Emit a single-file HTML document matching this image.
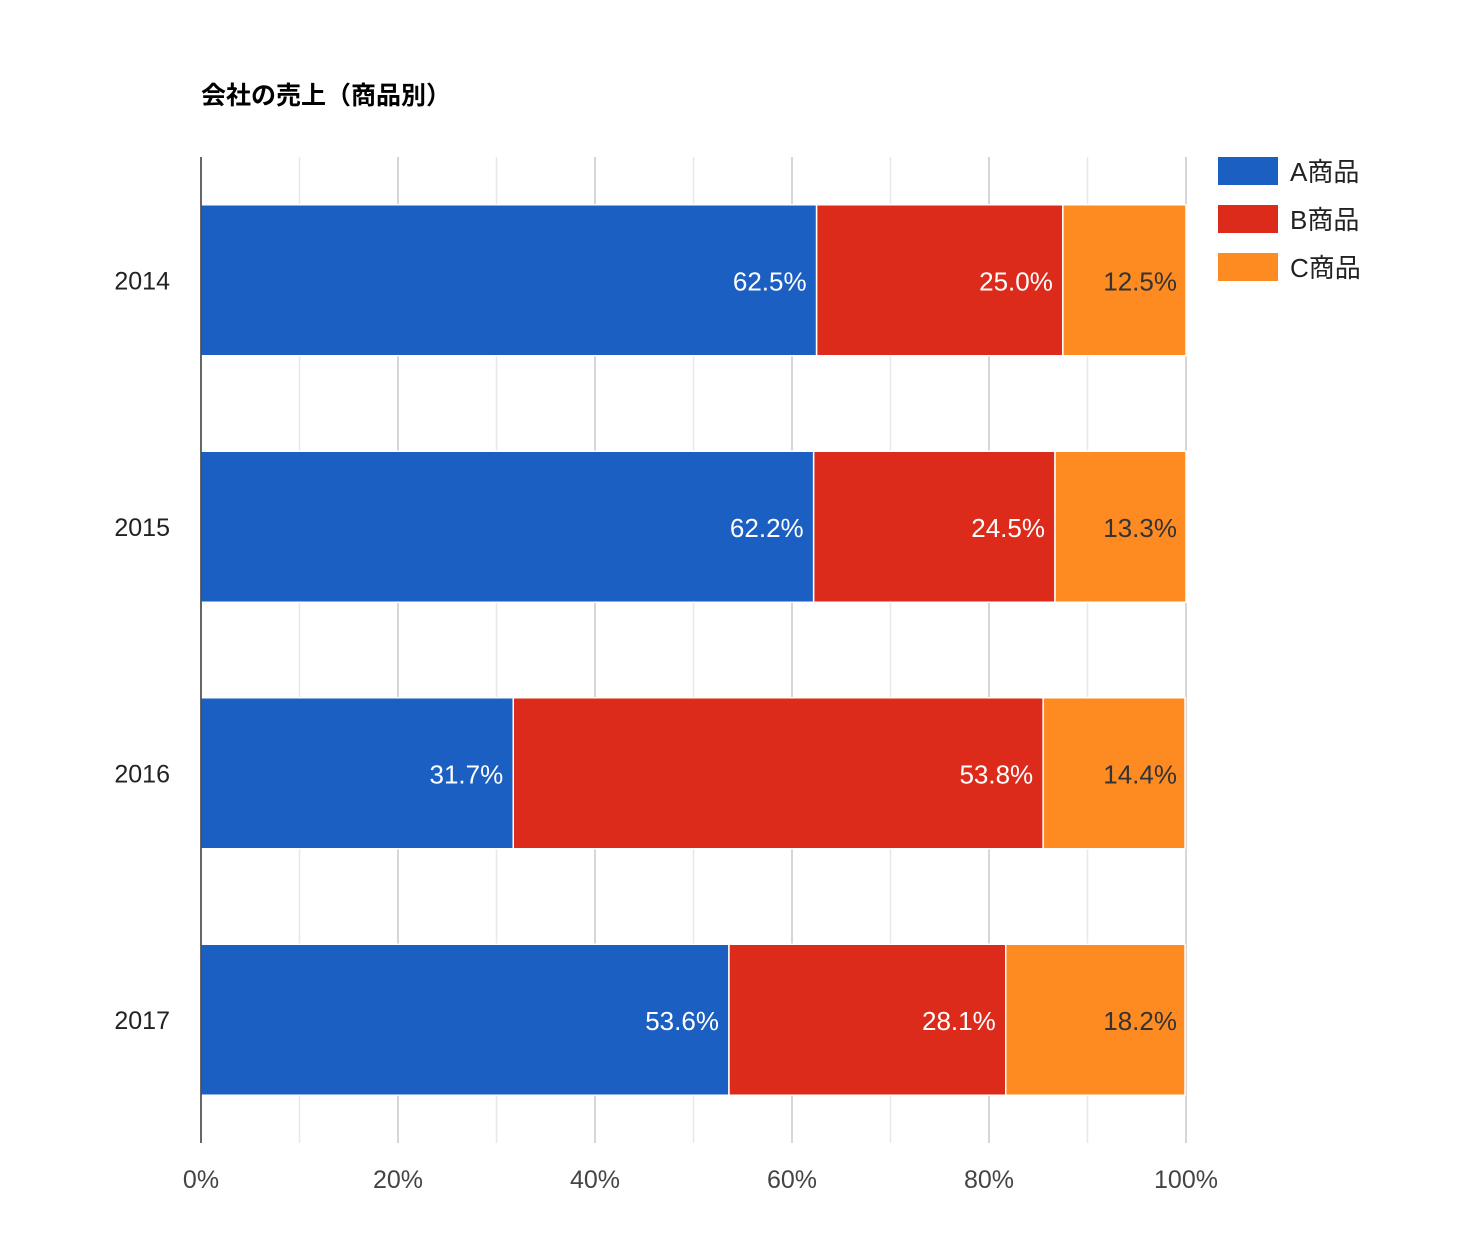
<!DOCTYPE html>
<html><head><meta charset="utf-8"><style>
body{margin:0;background:#fff;}
svg text{font-family:"Liberation Sans","Noto Sans CJK JP",sans-serif;}
</style></head><body>
<svg width="1460" height="1242" xmlns="http://www.w3.org/2000/svg">
<rect width="1460" height="1242" fill="#fff"/>
<text x="201" y="104" font-size="25" font-weight="bold" fill="#000">会社の売上（商品別）</text>
<g id="grid"></g>
<g id="bars"></g>
<g id="labels"></g>
<line x1="201" y1="157" x2="201" y2="1143" stroke="#333" stroke-width="1.5"/>
<g id="legend"></g>
</svg>
<script>
const categories=["2014","2015","2016","2017"];
const seriesNames=["A商品","B商品","C商品"];
const seriesA=[62.5,62.2,31.7,53.6];
const seriesB=[25.0,24.5,53.8,28.1];
const seriesC=[12.5,13.3,14.4,18.2];
const tickLabels=["0%","20%","40%","60%","80%","100%"];
const tickValues=[0,20,40,60,80,100];
const colors=["#1a5fc1","#dc2b1a","#fe8b22"];
const NS="http://www.w3.org/2000/svg";
const x0=201,x1=1186,plotTop=157,plotBottom=1143;
const xs=v=>x0+(v/100)*(x1-x0);
const band=(plotBottom-plotTop)/categories.length;
const barH=151;
const yc=i=>plotTop+band*i+band/2;
function mk(tag,attrs,parent){const e=document.createElementNS(NS,tag);for(const k in attrs)e.setAttribute(k,attrs[k]);document.getElementById(parent).appendChild(e);return e;}
for(let v=10;v<=100;v+=10){
  const l=mk("line",{x1:xs(v),x2:xs(v),y1:plotTop,y2:plotBottom,stroke:v%20===0?"#c8c8c8":"#e8e8e8","stroke-width":1.5},"grid");
  
  
}
tickValues.forEach((v,i)=>{
  const t=mk("text",{x:xs(v),y:1188,"font-size":25,fill:"#444","text-anchor":"middle"},"labels");
  t.textContent=tickLabels[i];
  
  
});
const series=[seriesA,seriesB,seriesC];
categories.forEach((c,i)=>{
  const t=mk("text",{x:170,y:yc(i)+9,"font-size":25,fill:"#222","text-anchor":"end"},"labels");
  t.textContent=c;
  
  
  let acc=0;
  series.forEach((s,k)=>{
    const v=s[i];
    const r=mk("rect",{x:xs(acc),y:yc(i)-barH/2,width:xs(acc+v)-xs(acc),height:barH,fill:colors[k],stroke:"#fff","stroke-width":1.5},"bars");
    
    
    acc+=v;
    const lx=k===2?x1-9:xs(acc)-10;
    const lt=mk("text",{x:lx,y:yc(i)+10,"font-size":26,fill:k===2?"#333":"#fff","text-anchor":"end"},"labels");
    lt.textContent=v.toFixed(1)+"%";
    
    
  });
});
seriesNames.forEach((n,k)=>{
  const r=mk("rect",{x:1218,y:157+48*k,width:60,height:28,fill:colors[k]},"legend");
  
  
  const t=mk("text",{x:1290,y:181+48*k,"font-size":26,fill:"#222"},"legend");
  t.textContent=n;
  
  
});
</script>
</body></html>
